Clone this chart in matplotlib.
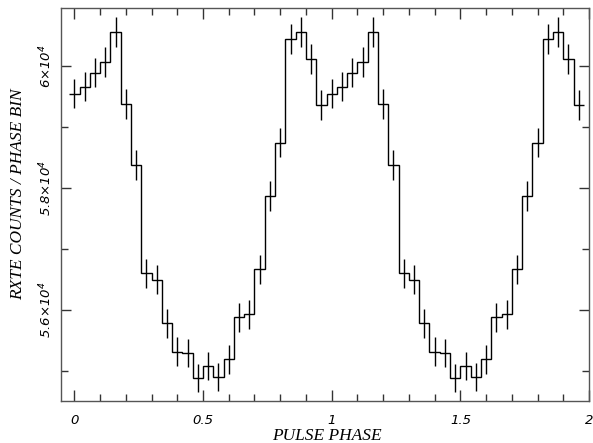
import numpy as np
import matplotlib
matplotlib.use('Agg')
import matplotlib.pyplot as plt
from matplotlib.ticker import MultipleLocator, FixedLocator

# one pulse cycle, 25 phase bins (bin width 0.04)
counts_cycle = [59545, 59660, 59890, 60060, 60553, 59370, 58373, 56594, 56489,
                55777, 55312, 55290, 54874, 55076, 54895, 55186, 55876, 55925,
                56660, 57864, 58740, 60438, 60553, 60110, 59354]
err_cycle = [244, 244, 245, 245, 246, 244, 242, 238, 238,
             236, 235, 235, 234, 235, 234, 235, 236, 236,
             238, 241, 242, 246, 246, 245, 244]

bin_width = 0.04
n_cycles = 2

# profile is shown twice
counts = np.tile(counts_cycle, n_cycles)
err = np.tile(err_cycle, n_cycles)
phase = np.arange(len(counts)) * bin_width
edges = np.append(phase - bin_width / 2, phase[-1] + bin_width / 2)

xtick_vals = [0, 0.5, 1, 1.5, 2]
xtick_labels = ['0', '0.5', '1', '1.5', '2']
ytick_vals = [56000, 58000, 60000]
ytick_labels = [r'$5.6{\times}10^4$', r'$5.8{\times}10^4$', r'$6{\times}10^4$']

plt.rcParams['mathtext.fontset'] = 'custom'
plt.rcParams['mathtext.rm'] = 'DejaVu Sans:italic'
plt.rcParams['mathtext.it'] = 'DejaVu Sans:italic'

fig = plt.figure(figsize=(5.93, 4.43), dpi=100)
ax = fig.add_axes([0.1037, 0.0948, 0.8896, 0.8872])

ax.stairs(counts, edges, baseline=None, color='black', linewidth=1.0)
ax.errorbar(phase, counts, yerr=err, fmt='none', ecolor='black',
            elinewidth=1.0, capsize=0)

ax.set_xlim(-0.05, 2.0)
ax.set_ylim(54500, 60950)

ax.xaxis.set_major_locator(FixedLocator(xtick_vals))
ax.xaxis.set_minor_locator(MultipleLocator(0.1))
ax.set_xticklabels(xtick_labels, fontfamily='DejaVu Sans',
                   fontstyle='italic', fontsize=9.5)

ax.yaxis.set_major_locator(FixedLocator(ytick_vals))
ax.yaxis.set_minor_locator(MultipleLocator(1000))
ax.set_yticklabels(ytick_labels, fontsize=9.5, rotation=90, va='center')

ax.tick_params(which='both', direction='in', top=True, right=True,
               color='#333333', width=1.0)
ax.tick_params(which='major', length=8)
ax.tick_params(which='minor', length=5)
ax.tick_params(axis='x', which='major', pad=9)
ax.tick_params(axis='y', which='major', length=7, pad=5)

for s in ax.spines.values():
    s.set_color('#555555')
    s.set_linewidth(1.0)

# axis titles placed by hand, as in the original
fig.text(327 / 593, 1 - 436 / 443, 'PULSE PHASE', fontfamily='Liberation Serif',
         fontstyle='italic', fontsize=12.5, ha='center', va='center')
fig.text(18 / 593, 1 - 194.5 / 443, 'RXTE COUNTS / PHASE BIN',
         fontfamily='Liberation Serif', fontstyle='italic', fontsize=12.5,
         rotation=90, ha='center', va='center')

fig.savefig('out.png', dpi=100)
